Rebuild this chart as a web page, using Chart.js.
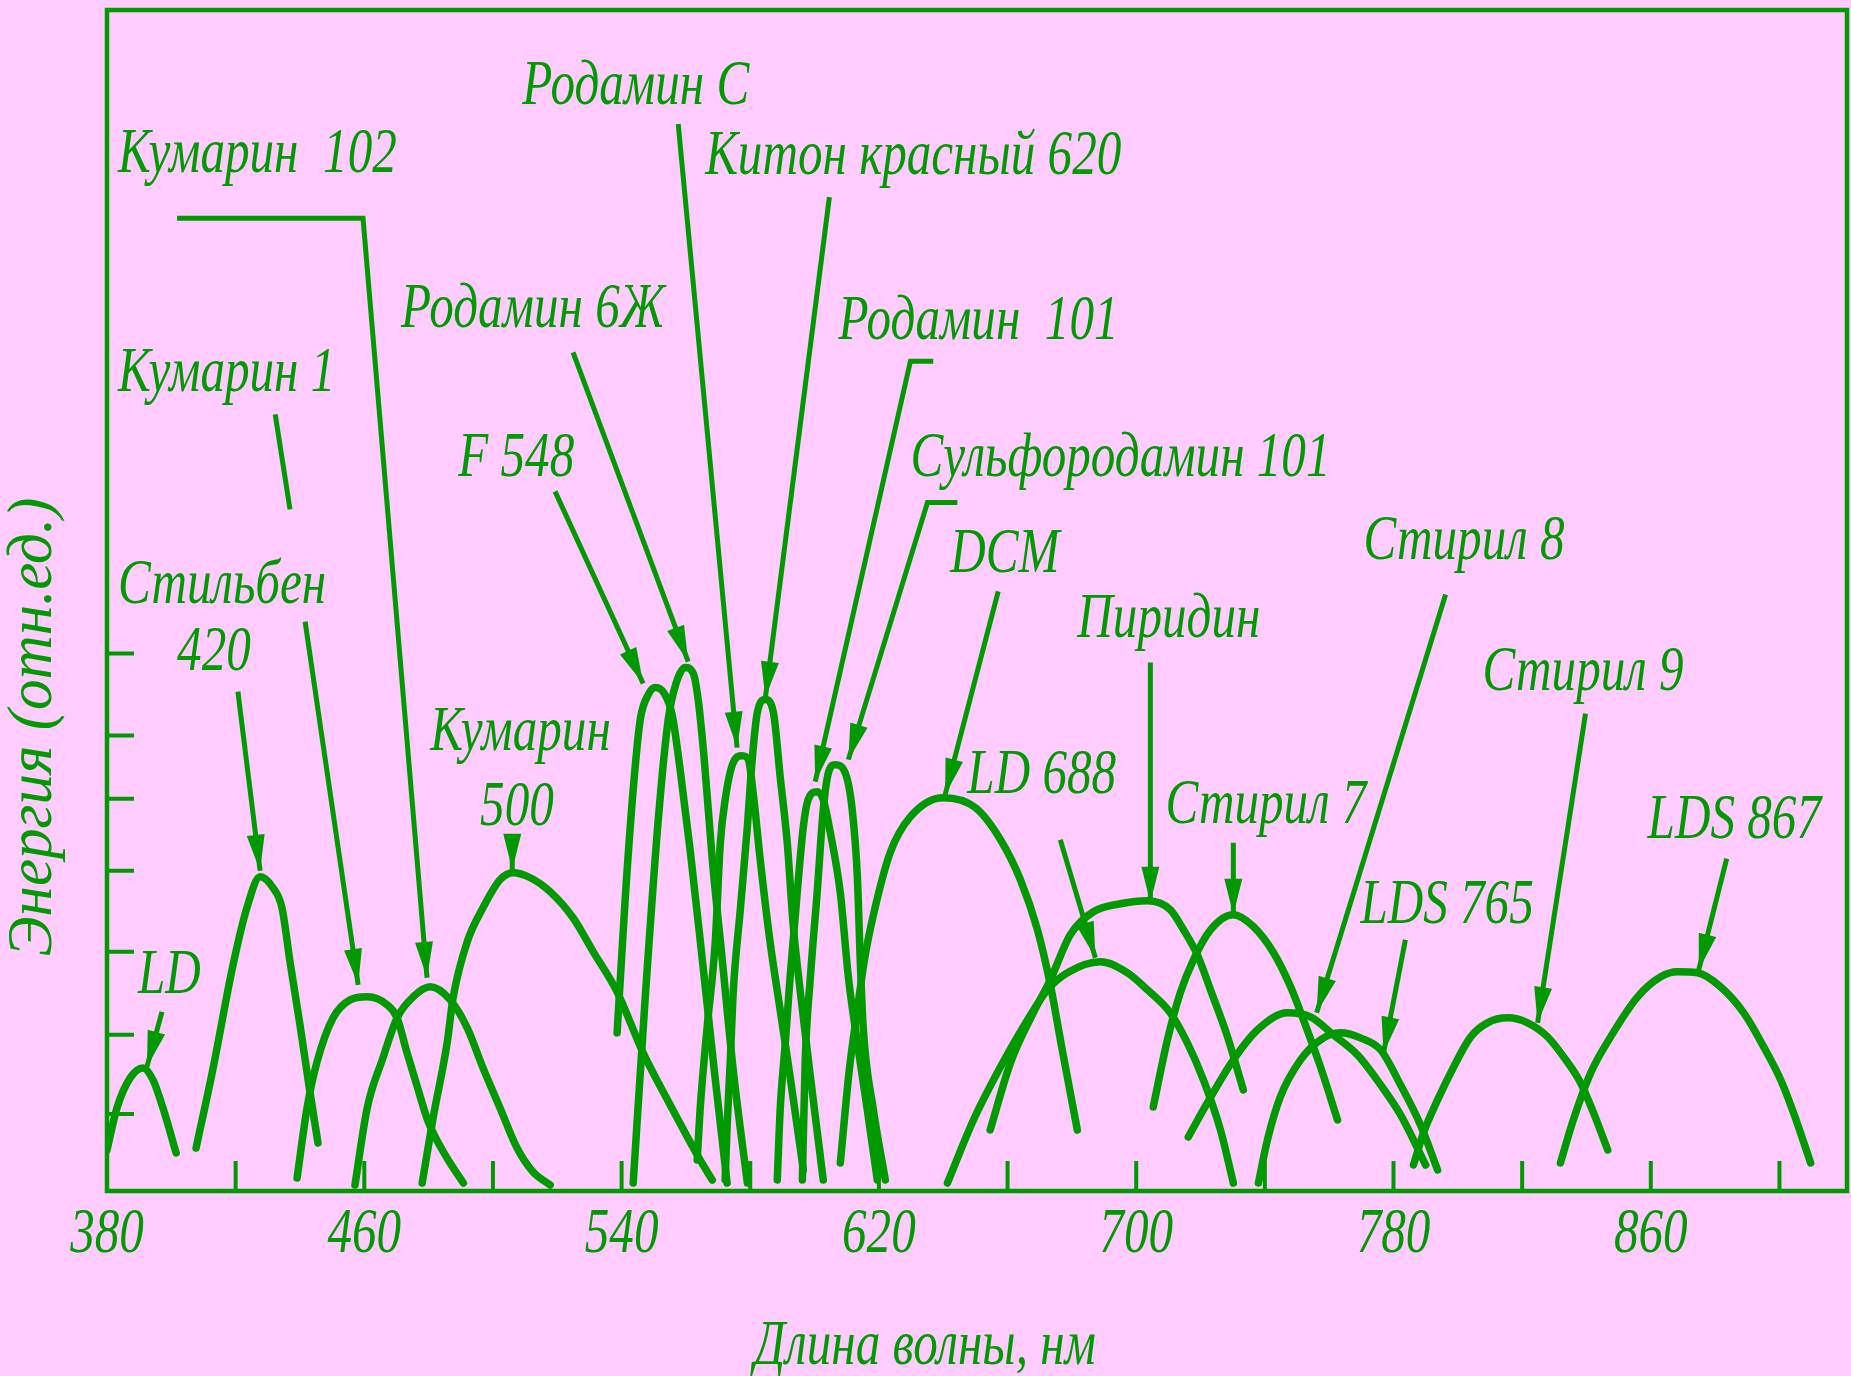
<!DOCTYPE html>
<html>
<head>
<meta charset="utf-8">
<script src="https://cdn.jsdelivr.net/npm/chart.js@4.4.1/dist/chart.umd.min.js"></script>
<style>
  html, body { margin: 0; padding: 0; background: #ffccff; overflow: hidden; }
  #chart { display: block; }
</style>
</head>
<body>
<canvas id="chart" width="1851" height="1376"></canvas>
<script>
const GREEN = '#009900',
      PINK = '#ffccff',
      FONT = "italic 63px 'Liberation Serif'",
      SQUEEZE = 0.78;

// axes: wavelength in nm, energy in relative units
const xMin = 380, xMax = 921, yMax = 118;
const xTickMarks = [420, 460, 500, 540, 580, 620, 660, 700, 740, 780, 820, 860, 900];
const xTickLabels = [380, 460, 540, 620, 700, 780, 860];
const yTickMarks = [7.7, 15.6, 23.9, 32.0, 39.2, 45.5, 53.7];

// tuning curves of the dyes
const ldX = [380, 383.1, 387.2, 391.2, 394.3, 397.4, 401.5];
const ldY = [4.1, 8.3, 11.3, 12.3, 11.1, 8.3, 3.8];
const stilbeneX = [407.7, 413.0, 419.2, 423.5, 427.6, 431.6, 434.4, 436.9, 440.0, 443.1, 445.6];
const stilbeneY = [4.3, 12.3, 22.6, 28.3, 31.4, 30.3, 28.3, 22.9, 16.6, 9.9, 4.8];
const coumarin1X = [439.1, 442.2, 445.3, 450.3, 455.6, 460.9, 467.1, 470.2, 473.2, 476.3, 479.9, 485.7, 490.8];
const coumarin1Y = [1.3, 8.3, 12.9, 17.3, 19.1, 19.4, 18.6, 17.3, 13.9, 10.6, 6.9, 3.3, 0.8];
const coumarin102X = [457.1, 460.9, 465.8, 470.2, 475.2, 480.5, 486.7, 492.0, 496.9, 502.2, 507.5, 512.5, 517.8];
const coumarin102Y = [0.6, 8.3, 13.3, 17.3, 19.4, 20.4, 19.1, 16.3, 12.3, 8.3, 4.3, 1.9, 0.6];
const coumarin500X = [478.0, 481.4, 485.8, 487.6, 492.0, 496.9, 502.2, 506.3, 511.6, 517.8, 524.9, 531.2, 538.6, 546.7, 555.1, 564.4, 568.2];
const coumarin500Y = [0.8, 7.3, 14.9, 19.3, 24.9, 28.3, 31.1, 31.8, 31.3, 29.9, 27.3, 23.9, 19.9, 13.8, 8.6, 3.1, 1.1];
const f548X = [538.6, 541.1, 543.6, 545.8, 548.3, 550.5, 553.3, 555.7, 558.2, 561.3, 565.1, 568.8, 572.8];
const f548Y = [15.8, 29.1, 40.1, 47.1, 49.6, 50.3, 49.7, 47.6, 42.1, 34.1, 23.1, 12.1, 0.8];
const rh6gX = [543.6, 547.3, 551.4, 554.5, 557.0, 559.8, 562.3, 563.8, 565.7, 568.2, 571.3, 574.7, 579.1];
const rh6gY = [0.8, 19.1, 37.1, 47.1, 50.8, 52.3, 51.7, 49.1, 43.1, 33.1, 23.1, 12.1, 0.8];
const rhCX = [563.5, 564.4, 566.6, 569.1, 570.7, 572.2, 574.7, 577.5, 579.4, 580.9, 583.1, 586.2, 589.3, 592.4, 596.5];
const rhCY = [3.1, 8.1, 16.4, 24.8, 34.8, 39.1, 42.8, 43.5, 43.1, 39.8, 33.1, 24.8, 18.1, 11.4, 2.1];
const kitonX = [572.2, 572.8, 573.8, 574.7, 576.9, 579.1, 580.6, 582.2, 584.7, 587.2, 589.3, 591.5, 593.4, 595.6, 598.7, 602.7];
const kitonY = [1.1, 6.4, 13.1, 19.8, 28.1, 36.4, 43.1, 47.8, 49.1, 47.8, 41.4, 34.8, 26.4, 19.8, 11.4, 1.1];
const rh101X = [588.4, 589.3, 590.9, 592.4, 594.6, 596.5, 598.0, 600.8, 602.7, 604.9, 608.0, 610.5, 613.3, 616.4, 619.5];
const rh101Y = [1.1, 8.1, 14.8, 21.4, 29.8, 36.4, 39.1, 39.9, 39.1, 35.8, 29.8, 21.4, 14.8, 8.1, 1.1];
const srh101X = [596.2, 597.1, 598.7, 600.8, 602.7, 604.3, 606.4, 609.5, 611.7, 613.3, 614.2, 615.1, 618.3, 622.0];
const srh101Y = [1.1, 13.1, 21.4, 29.8, 38.1, 41.8, 42.6, 41.8, 38.1, 31.4, 23.1, 16.4, 8.1, 1.1];
const dcmX = [608.0, 610.8, 613.3, 615.5, 618.3, 623.5, 629.8, 640.0, 650.0, 657.8, 664.0, 669.3, 673.3, 677.0, 681.7];
const dcmY = [2.8, 12.1, 18.1, 23.1, 27.6, 33.8, 37.4, 39.3, 38.3, 35.1, 31.1, 26.1, 20.6, 14.1, 6.1];
const ld688X = [641.3, 649.4, 657.8, 666.2, 672.4, 678.6, 688.9, 697.3, 703.5, 710.6, 715.9, 720.9, 726.2, 730.2];
const ld688Y = [0.8, 7.1, 12.4, 17.1, 20.1, 21.8, 22.9, 21.8, 20.1, 17.8, 14.8, 11.1, 6.1, 0.8];
const pyridineX = [654.6, 660.9, 668.0, 673.3, 679.5, 686.7, 695.1, 703.5, 710.6, 714.7, 719.0, 723.1, 728.4, 733.3];
const pyridineY = [6.1, 12.8, 17.8, 21.1, 25.6, 27.9, 28.7, 29.0, 28.1, 26.1, 23.6, 20.1, 15.4, 10.1];
const styryl7X = [705.3, 709.7, 713.7, 717.8, 723.1, 730.2, 736.5, 742.7, 748.0, 752.0, 757.3, 762.6];
const styryl7Y = [8.4, 15.1, 19.8, 23.1, 26.1, 27.6, 26.4, 23.8, 20.4, 17.1, 12.4, 7.1];
const styryl8X = [716.2, 722.1, 730.2, 737.7, 747.0, 754.2, 761.3, 768.8, 776.0, 782.2, 790.0];
const styryl8Y = [5.4, 8.8, 13.1, 16.1, 17.8, 17.4, 15.6, 13.6, 10.6, 7.6, 2.6];
const lds765X = [738.0, 740.8, 744.8, 751.1, 757.3, 763.5, 769.7, 776.0, 782.2, 788.4, 793.7];
const lds765Y = [0.8, 5.1, 9.4, 13.1, 15.1, 15.8, 15.3, 14.1, 10.6, 6.6, 2.1];
const styryl9X = [786.2, 789.3, 793.7, 798.7, 804.0, 809.2, 815.5, 821.7, 827.9, 832.9, 838.2, 842.2, 846.6];
const styryl9Y = [2.6, 5.8, 9.1, 12.4, 15.4, 16.8, 17.3, 16.8, 15.4, 13.4, 10.8, 7.8, 4.1];
const lds867X = [831.9, 835.9, 841.3, 847.5, 855.9, 863.1, 868.3, 874.5, 881.7, 888.9, 895.1, 900.4, 904.4, 909.7];
const lds867Y = [2.8, 7.1, 11.8, 15.4, 19.4, 21.4, 21.9, 21.8, 20.4, 17.8, 14.4, 11.1, 7.8, 2.8];

// dye names, anchored in data units (left end of the baseline)
const labels = [
  ['Родамин С', 509.1, 108.6],
  ['Кумарин  102', 383.4, 101.8],
  ['Китон красный 620', 566.0, 101.6],
  ['Родамин 6Ж', 471.4, 86.3],
  ['Родамин  101', 607.4, 85.1],
  ['Кумарин 1', 383.4, 79.9],
  ['F 548', 489.2, 71.4],
  ['Сульфородамин 101', 629.8, 71.4],
  ['DCM', 642.2, 61.8],
  ['Стирил 8', 770.7, 63.1],
  ['Стильбен', 383.4, 58.8],
  ['420', 401.8, 52.1],
  ['Пиридин', 681.7, 55.4],
  ['Стирил 9', 807.7, 50.1],
  ['Кумарин', 480.5, 44.1],
  ['500', 496.0, 36.6],
  ['LD 688', 647.5, 39.8],
  ['Стирил 7', 709.1, 36.8],
  ['LDS 867', 859.0, 35.3],
  ['LDS 765', 769.7, 26.8],
  ['LD', 389.6, 19.8]
];

// leader lines from the names to the curves; [points, arrow at end]
const leaders = [
  [[[397.1, 17.9], [392.4, 12.4]], true],
  [[[420.7, 49.9], [427.6, 32.0]], true],
  [[[432.3, 77.6], [436.9, 68.1]], false],
  [[[441.6, 56.9], [458.1, 20.6]], true],
  [[[401.8, 97.2], [459.6, 97.2], [479.5, 21.3]], true],
  [[[506.0, 35.3], [506.0, 32.1]], true],
  [[[519.3, 69.9], [546.7, 50.7]], true],
  [[[524.9, 83.8], [560.7, 52.9]], true],
  [[[557.6, 106.6], [575.9, 44.3]], true],
  [[[604.6, 99.3], [584.7, 49.3]], true],
  [[[636.9, 82.9], [629.8, 82.9], [600.2, 40.9]], true],
  [[[644.4, 68.8], [635.1, 68.8], [610.5, 43.1]], true],
  [[[657.1, 59.9], [640.6, 39.6]], true],
  [[[676.4, 35.1], [687.3, 23.3]], true],
  [[[704.4, 52.8], [704.4, 28.8]], true],
  [[[730.2, 34.8], [730.2, 27.6]], true],
  [[[796.2, 59.6], [756.1, 17.8]], true],
  [[[783.7, 25.1], [776.9, 13.8]], true],
  [[[839.7, 47.7], [824.8, 16.8]], true],
  [[[883.6, 33.2], [874.9, 22.1]], true]
];

const curves = [
  [ldX, ldY], [stilbeneX, stilbeneY], [coumarin1X, coumarin1Y], [coumarin102X, coumarin102Y],
  [coumarin500X, coumarin500Y], [f548X, f548Y], [rh6gX, rh6gY], [rhCX, rhCY], [kitonX, kitonY],
  [rh101X, rh101Y], [srh101X, srh101Y], [dcmX, dcmY], [ld688X, ld688Y], [pyridineX, pyridineY],
  [styryl7X, styryl7Y], [styryl8X, styryl8Y], [lds765X, lds765Y], [styryl9X, styryl9Y], [lds867X, lds867Y]
];

const datasets = curves.map(([xs, ys]) => ({
  data: xs.map((x, i) => ({x, y: ys[i]})),
  borderColor: GREEN,
  borderWidth: 7.5,
  pointRadius: 0,
  fill: false,
  cubicInterpolationMode: 'monotone',
  borderCapStyle: 'round',
  borderJoinStyle: 'round'
}));

leaders.forEach(([pts]) => datasets.push({
  data: pts.map(([x, y]) => ({x, y})),
  borderColor: GREEN,
  borderWidth: 5,
  pointRadius: 0,
  fill: false,
  tension: 0,
  borderJoinStyle: 'miter'
}));

function squeezed(ctx, str, x, y, k = SQUEEZE) {
  ctx.save();
  ctx.translate(x, y);
  ctx.scale(k, 1);
  ctx.fillText(str, 0, 0);
  ctx.restore();
}

const decor = {
  id: 'decor',
  beforeDraw(chart) {
    const ctx = chart.ctx;
    ctx.save();
    ctx.fillStyle = PINK;
    ctx.fillRect(0, 0, chart.width, chart.height);
    ctx.restore();
  },
  afterDatasetsDraw(chart) {
    const ctx = chart.ctx, a = chart.chartArea,
          xs = chart.scales.x, ys = chart.scales.y;
    ctx.save();
    ctx.strokeStyle = GREEN;
    ctx.fillStyle = GREEN;

    // frame
    ctx.lineWidth = 4.5;
    ctx.strokeRect(a.left, a.top, a.right - a.left, a.bottom - a.top);

    // inward ticks
    ctx.lineWidth = 4;
    ctx.beginPath();
    xTickMarks.forEach(v => {
      const px = xs.getPixelForValue(v);
      ctx.moveTo(px, a.bottom);
      ctx.lineTo(px, a.bottom - 30);
    });
    yTickMarks.forEach(v => {
      const py = ys.getPixelForValue(v);
      ctx.moveTo(a.left, py);
      ctx.lineTo(a.left + 27, py);
    });
    ctx.stroke();

    // arrow heads
    leaders.forEach(([pts, arrow]) => {
      if (!arrow) return;
      const p0 = pts[pts.length - 2], p1 = pts[pts.length - 1];
      const x0 = xs.getPixelForValue(p0[0]), y0 = ys.getPixelForValue(p0[1]);
      const x1 = xs.getPixelForValue(p1[0]), y1 = ys.getPixelForValue(p1[1]);
      const ang = Math.atan2(y1 - y0, x1 - x0);
      ctx.save();
      ctx.translate(x1, y1);
      ctx.rotate(ang);
      ctx.beginPath();
      ctx.moveTo(0, 0);
      ctx.lineTo(-36, -9);
      ctx.lineTo(-36, 9);
      ctx.closePath();
      ctx.fill();
      ctx.restore();
    });

    // texts
    ctx.font = FONT;
    ctx.textBaseline = 'alphabetic';
    ctx.textAlign = 'left';
    labels.forEach(([t, x, y]) => squeezed(ctx, t, xs.getPixelForValue(x), ys.getPixelForValue(y)));

    ctx.textAlign = 'center';
    xTickLabels.forEach(v => squeezed(ctx, String(v), xs.getPixelForValue(v), a.bottom + 61));
    squeezed(ctx, 'Длина волны, нм', 925, a.bottom + 173);

    ctx.save();
    ctx.translate(a.left - 56, 727);
    ctx.rotate(-Math.PI / 2);
    squeezed(ctx, 'Энергия (отн.ед.)', 0, 0, 0.97);
    ctx.restore();

    ctx.restore();
  }
};

new Chart(document.getElementById('chart'), {
  type: 'line',
  data: {datasets},
  options: {
    responsive: false,
    animation: false,
    devicePixelRatio: 1,
    events: [],
    layout: {padding: {left: 107, right: 4, top: 10, bottom: 185}},
    plugins: {legend: {display: false}, tooltip: {enabled: false}},
    scales: {
      x: {type: 'linear', min: xMin, max: xMax, display: false},
      y: {type: 'linear', min: 0, max: yMax, display: false}
    }
  },
  plugins: [decor]
});
</script>
</body>
</html>
